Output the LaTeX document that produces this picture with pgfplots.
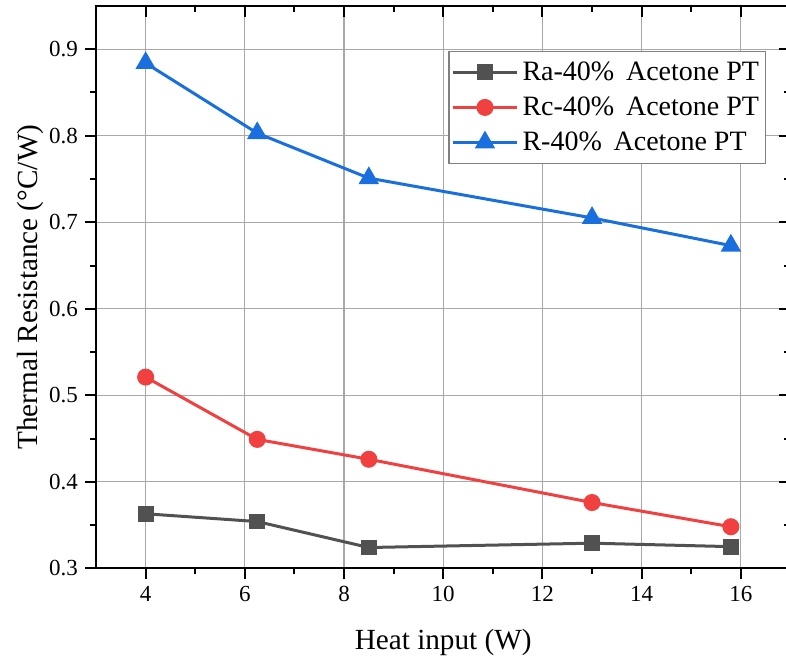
\documentclass[border=0pt]{standalone}
\usepackage{fontspec}
\setmainfont{Liberation Serif}
\usepackage{pgfplots}
\pgfplotsset{compat=1.18}

\definecolor{cRa}{HTML}{515151}
\definecolor{cRc}{HTML}{F14040}
\definecolor{cR}{HTML}{1A6FDF}
\definecolor{gridgray}{RGB}{168,168,168}

\newcommand{\tickfont}{\rmfamily\fontsize{11.5}{13.8}\selectfont}
\newcommand{\labelfont}{\rmfamily\fontsize{14.6}{17.5}\selectfont}
\newcommand{\legfont}{\rmfamily\fontsize{14}{16.8}\selectfont}

\pgfplotsset{
  frame/.style={
    scale only axis,
    width=347pt, height=281pt,
    xmin=3, xmax=17, ymin=0.3, ymax=0.95,
    xtick={4,6,...,16}, ytick={0.3,0.4,...,0.9},
    minor x tick num=1, minor y tick num=1,
    major tick length=5.5pt, minor tick length=3pt,
    every tick/.style={black, line width=1pt},
  },
}

\begin{document}
\begin{tikzpicture}
\begin{axis}[
  frame,
  axis line style={black, line width=1.2pt},
  tick align=outside,
  xtick pos=left, ytick pos=left,
  grid=major,
  major grid style={gridgray, line width=0.6pt},
  /pgf/number format/assume math mode=true,
  /pgf/number format/fixed,
  /pgf/number format/precision=1,
  /pgf/number format/fixed zerofill,
  yticklabel style={font=\tickfont, /pgf/number format/fixed zerofill},
  xticklabel style={font=\tickfont, /pgf/number format/precision=0, /pgf/number format/fixed zerofill=false},
  xlabel={Heat input (W)},
  ylabel={Thermal Resistance (°C/W)},
  xlabel style={font=\labelfont, at={([yshift=-40.5pt]axis description cs:0.5,0)}, anchor=base},
  ylabel style={font=\labelfont, at={([xshift=-29.5pt]axis description cs:0,0.5)}, anchor=base},
  legend style={
    at={(rel axis cs:0.965,0.92)}, anchor=north east,
    draw=gray, line width=0.6pt, font=\legfont,
    row sep=2.7pt, inner xsep=1.2pt, inner ysep=3pt, cells={anchor=west},
  },
  legend image code/.code={
    \draw[mark repeat=2, mark phase=2] plot coordinates {(0pt,0pt) (16pt,0pt) (32pt,0pt)};
  },
  every axis plot/.append style={line width=1.5pt},
]
\addplot[color=cRa, mark=square*, mark size=3.2pt, mark options={solid}]
  coordinates {(4,0.363) (6.25,0.354) (8.5,0.324) (13,0.329) (15.8,0.325)};
\addlegendentry{Ra-40\%\hspace{0.42em}Acetone PT}
\addplot[color=cRc, mark=*, mark size=3.5pt, mark options={solid}]
  coordinates {(4,0.521) (6.25,0.449) (8.5,0.426) (13,0.376) (15.8,0.348)};
\addlegendentry{Rc-40\%\hspace{0.42em}Acetone PT}
\addplot[color=cR, mark=triangle*, mark size=4.4pt, mark options={solid}]
  coordinates {(4,0.884) (6.25,0.803) (8.5,0.751) (13,0.705) (15.8,0.673)};
\addlegendentry{R-40\%\hspace{0.42em}Acetone PT}
\end{axis}
% inward ticks on the top and right sides
\begin{axis}[
  frame,
  axis line style={black, line width=1.2pt},
  tick align=inside,
  xtick pos=right, ytick pos=right,
  xticklabels={}, yticklabels={},
]
\end{axis}
\pgfresetboundingbox
\path ([xshift=-48pt,yshift=-45pt]current axis.south west)
  rectangle ([xshift=-2.2pt,yshift=3pt]current axis.north east);
\end{tikzpicture}
\end{document}
